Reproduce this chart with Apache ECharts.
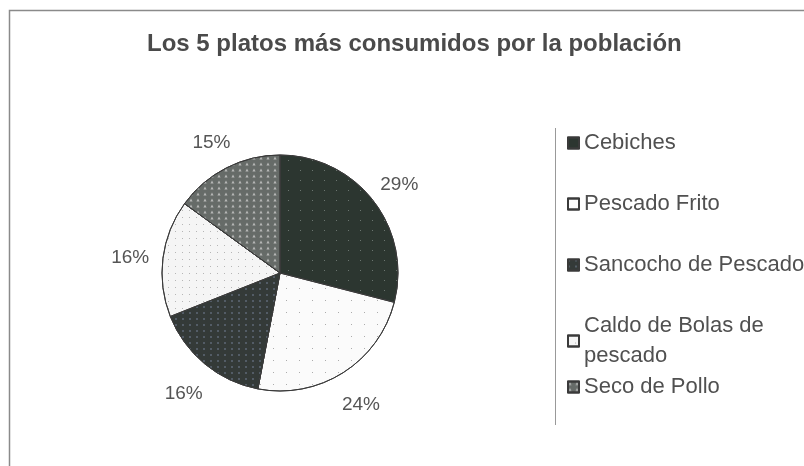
<!DOCTYPE html>
<html>
<head>
<meta charset="utf-8">
<script src="https://cdn.jsdelivr.net/npm/echarts@6/dist/echarts.min.js"></script>
<style>
html,body{margin:0;padding:0;background:#fff;}
#chart{width:804px;height:466px;}
</style>
</head>
<body>
<div id="chart"></div>
<script>
// datos del grafico
var platos = ['Cebiches', 'Pescado Frito', 'Sancocho de Pescado', 'Caldo de Bolas de pescado', 'Seco de Pollo'];
var porcentajes = [29, 24, 16, 16, 15];
var colores = ['#2c3630', '#fbfbfb', '#343a38', '#f5f5f5', '#666b68'];

var fuente = 'Arial, "Liberation Sans", sans-serif';

// tramas para imitar el relleno del original
var tramas = [
    {symbol: 'rect', symbolSize: 1, color: 'rgba(160,170,165,0.55)', dashArrayX: [1, 11], dashArrayY: [1, 9]},
    {symbol: 'rect', symbolSize: 1, color: 'rgba(120,120,120,0.6)', dashArrayX: [1, 12], dashArrayY: [1, 11]},
    {symbol: 'rect', symbolSize: 1, color: 'rgba(110,120,140,0.55)', dashArrayX: [2, 5], dashArrayY: [2, 4]},
    {symbol: 'rect', symbolSize: 1, color: 'rgba(140,140,140,0.6)', dashArrayX: [1, 6], dashArrayY: [1, 6]},
    {symbol: 'triangle', symbolSize: 0.8, color: 'rgba(215,215,215,0.7)', dashArrayX: [4, 3], dashArrayY: [4, 2]}
];

var datos = [], etiquetas = [];
for (var i = 0; i < platos.length; i++) {
    datos.push({
        name: platos[i],
        value: porcentajes[i],
        itemStyle: {color: colores[i], decal: tramas[i]}
    });
    etiquetas.push({name: platos[i], value: porcentajes[i]});
}

var myChart = echarts.init(document.getElementById('chart'));
var estiloLeyenda = {fontFamily: fuente, fontSize: 22, lineHeight: 30, color: '#505050'};
var option = {
    backgroundColor: '#fff',
    animation: false,
    title: {
        text: 'Los 5 platos más consumidos por la población',
        left: 147,
        top: 32,
        padding: 0,
        textStyle: {fontFamily: fuente, fontSize: 24, fontWeight: 'bold', color: '#4a4a4a'}
    },
    legend: [
        {
            orient: 'vertical',
            left: 567,
            top: 128,
            padding: 0,
            itemWidth: 11,
            itemHeight: 11,
            itemGap: 31,
            icon: 'rect',
            data: platos.slice(0, 4),
            formatter: function (name) {
                return name === 'Caldo de Bolas de pescado' ? 'Caldo de Bolas de\npescado' : name;
            },
            textStyle: estiloLeyenda
        },
        {
            orient: 'vertical',
            left: 567,
            top: 372,
            padding: 0,
            itemWidth: 11,
            itemHeight: 11,
            icon: 'rect',
            data: platos.slice(4),
            textStyle: estiloLeyenda
        }
    ],
    graphic: [
        {
            type: 'rect',
            shape: {x: 9.5, y: 10.5, width: 820, height: 480},
            style: {fill: 'none', stroke: '#8a8a8a', lineWidth: 1.5},
            silent: true
        },
        {
            type: 'line',
            shape: {x1: 555.5, y1: 128, x2: 555.5, y2: 425},
            style: {stroke: '#999', lineWidth: 1},
            silent: true
        }
    ],
    series: [
        {
            type: 'pie',
            center: [280, 273],
            radius: 118,
            startAngle: 90,
            clockwise: true,
            data: datos,
            itemStyle: {borderColor: '#3a3a3a', borderWidth: 1},
            label: {show: false},
            labelLine: {show: false},
            emphasis: {disabled: true}
        },
        {
            // anillo invisible que solo coloca los porcentajes fuera del circulo
            type: 'pie',
            center: [280, 277],
            radius: [96, 200],
            startAngle: 90,
            clockwise: true,
            silent: true,
            data: etiquetas,
            itemStyle: {color: 'rgba(0,0,0,0)', borderWidth: 0},
            label: {
                position: 'inside',
                formatter: '{c}%',
                fontFamily: fuente,
                fontSize: 19,
                color: '#555'
            },
            labelLine: {show: false},
            emphasis: {disabled: true}
        }
    ]
};
myChart.setOption(option);
</script>
</body>
</html>
